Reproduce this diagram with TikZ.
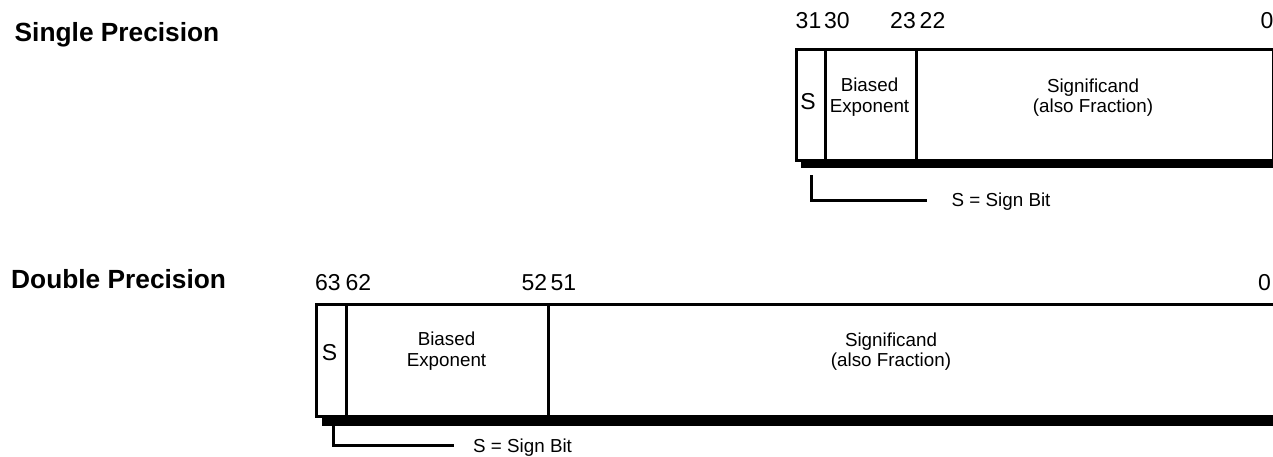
\documentclass[tikz,border=0pt]{standalone}
\usepackage{fontspec}
\setmainfont{Liberation Sans}
\begin{document}
\begin{tikzpicture}[x=1pt,y=-1pt,
  field/.style={draw,line width=3pt,inner sep=0pt,anchor=north west},
  ftext/.style={font=\fontsize{18.8}{20.5}\selectfont,align=center,inner sep=0pt},
  stext/.style={font=\fontsize{23}{25}\selectfont,inner sep=0pt},
  bitno/.style={font=\fontsize{23}{25}\selectfont,inner sep=0pt},
  title/.style={font=\fontsize{26.3}{28}\selectfont\bfseries,inner sep=0pt,anchor=base west},
  shadow/.style={fill=black},
  signline/.style={line width=3pt},
  signlbl/.style={font=\fontsize{18.8}{20.5}\selectfont,inner sep=0pt,anchor=base west}]
\useasboundingbox (0,0) rectangle (1273,456);
\clip (0,0) rectangle (1273,456);

% titles
\node[title] (t1) at (14.5,41.7) {Single Precision};
\node[title] (t2) at (11,288.3) {Double Precision};

% ---------- single precision ----------
\fill[shadow] (801,158.5) rectangle (1280,168.3);
\node[field,minimum width=29.5pt,minimum height=111pt] (s1) at (794.5,47.5) {};
\node[field,minimum width=91pt,minimum height=111pt] (e1) at (824,47.5) {};
\node[field,minimum width=356.5pt,minimum height=111pt] (m1) at (915,47.5) {};
\node[stext] (s1t) at (808,101.7) {S};
\node[ftext] (e1t) at (869.5,97) {Biased\\Exponent};
\node[ftext] (m1t) at (1093,97.8) {Significand\\(also Fraction)};

\node[bitno,anchor=base west] (b31) at (795.5,28.3) {31};
\node[bitno,anchor=base west] (b30) at (823.8,28.3) {30};
\node[bitno,anchor=base west] (b23) at (890,28.3) {23};
\node[bitno,anchor=base west] (b22) at (919.5,28.3) {22};
\node[bitno,anchor=base east] (b0a) at (1273.5,28.3) {0};

\coordinate (sg1a) at (811.7,175);
\coordinate (sg1b) at (927.3,200.5);
\node[signlbl] (sl1) at (951.5,206) {S = Sign Bit};
\draw[signline] (sg1a) |- (sg1b);

% ---------- double precision ----------
\fill[shadow] (322,414.5) rectangle (1280,425.7);
\node[field,minimum width=30pt,minimum height=111.5pt] (s2) at (314.5,303) {};
\node[field,minimum width=202pt,minimum height=111.5pt] (e2) at (344.5,303) {};
\node[field,minimum width=760pt,minimum height=111.5pt] (m2) at (546.5,303) {};
\node[stext] (s2t) at (329.5,353) {S};
\node[ftext] (e2t) at (446.5,351) {Biased\\Exponent};
\node[ftext] (m2t) at (891,351.5) {Significand\\(also Fraction)};

\node[bitno,anchor=base west] (b63) at (315,290.7) {63};
\node[bitno,anchor=base west] (b62) at (345.5,290.7) {62};
\node[bitno,anchor=base west] (b52) at (521.5,290.7) {52};
\node[bitno,anchor=base west] (b51) at (550.5,290.7) {51};
\node[bitno,anchor=base east] (b0b) at (1271,290.7) {0};

\coordinate (sg2a) at (333,425.7);
\coordinate (sg2b) at (454,445);
\node[signlbl] (sl2) at (473,452) {S = Sign Bit};
\draw[signline] (sg2a) |- (sg2b);
\end{tikzpicture}
\end{document}
